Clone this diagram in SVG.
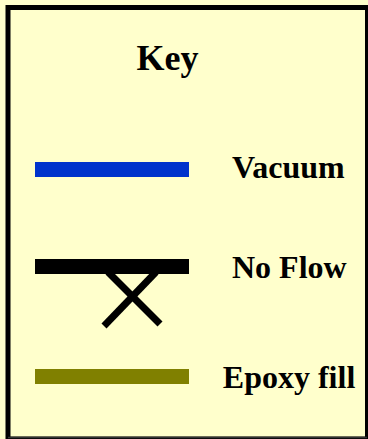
<svg xmlns="http://www.w3.org/2000/svg" width="368" height="439" viewBox="0 0 368 439">
<style>
.lbl{font-family:"Liberation Serif","Times New Roman",serif;font-weight:bold;fill:#000;font-size:32px}
.title{font-size:36px}
</style>
<rect x="0" y="0" width="368" height="439" fill="#FFFFCC"/>
<g id="frame">
<rect x="8" y="7.5" width="359.5" height="431.5" fill="#FFFFCC" stroke="#000" stroke-width="5"/>
<line x1="8" y1="437.5" x2="367" y2="437.5" stroke="#333" stroke-width="1.5"/>
</g>
<g id="key-title"><text class="lbl title" x="136.5" y="70">Key</text></g>
<g id="vacuum">
<rect x="35" y="162" width="154" height="15" fill="#0033CC"/>
<text class="lbl" x="232" y="177.7">Vacuum</text>
</g>
<g id="noflow">
<rect x="35" y="259" width="154" height="15" fill="#000"/>
<line x1="108" y1="272" x2="160" y2="324" stroke="#000" stroke-width="7"/>
<line x1="156" y1="272" x2="104" y2="326" stroke="#000" stroke-width="7"/>
<text class="lbl" x="232" y="277.7">No Flow</text>
</g>
<g id="epoxy">
<rect x="35" y="369" width="154" height="15" fill="#808000"/>
<text class="lbl" x="222.8" y="387.7">Epoxy fill</text>
</g>
<g id="connectors"></g>
</svg>
